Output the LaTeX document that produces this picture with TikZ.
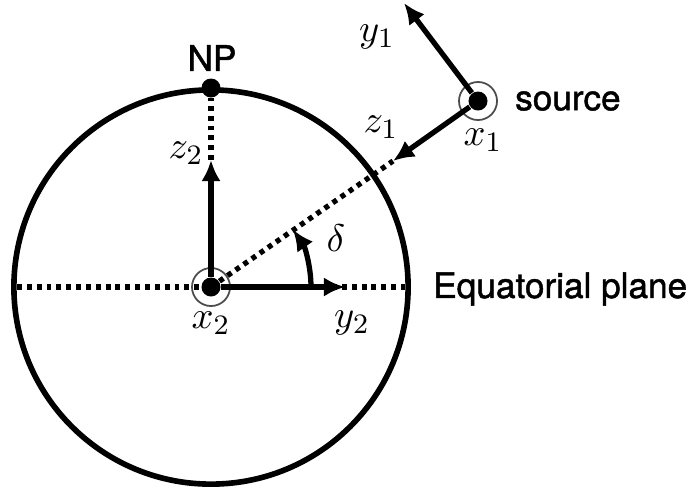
\documentclass[tikz,border=0pt]{standalone}
\usepackage{fontspec}
\setsansfont{TeX Gyre Heros}
\newfontfamily\medsans[FakeBold=1.3]{TeX Gyre Heros}
\usetikzlibrary{arrows.meta,positioning,calc}

\begin{document}
\begin{tikzpicture}[x=0.01cm, y=-0.01cm,
    axis/.style={draw, -{Latex[length=6pt,width=5.5pt]}, line width=1.5pt},
    dotline/.style={draw, line width=1.5pt, dash pattern=on 1.4pt off 1.4pt},
    pt/.style={circle, fill=black, inner sep=0pt, minimum size=0.19cm},
    ring/.style={circle, draw=black!70, line width=0.5pt, inner sep=0pt, minimum size=0.38cm},
    lab/.style={font=\medsans, inner sep=1pt},
    mlab/.style={inner sep=1pt, font=\fontsize{11}{13}\selectfont}
]
    \useasboundingbox (0,0) rectangle (688,493);

    \node[pt] (ctr) at (211,287) {};
    \node[ring] (ctrring) at (ctr) {};
    \draw[line width=1.6pt] (ctr) circle [radius=1.97cm];

    \node[pt] (np) at (211,88) {};
    \node[lab] (nplab) at (212,58) {NP};

    \node[pt] (src) at (478,101) {};
    \node[ring] (srcring) at (src) {};
    \node[lab, anchor=west] (srclab) at (511,101) {source};

    \coordinate (eqL) at (17,287);
    \coordinate (eqR) at (405,287);
    \coordinate (z1tip) at (393,161);
    \coordinate (y1tip) at (404,3);
    \coordinate (z2tip) at (211,160);
    \coordinate (y2tip) at (345,287);

    % dotted guide lines
    \path[dotline] (eqL) -- (eqR);
    \path[dotline] (z2tip) -- (np);
    \path[dotline] (ctr) -- (z1tip);

    % axes
    \path[axis] (ctr) -- (z2tip);
    \path[axis] (ctr) -- (y2tip);
    \path[axis] (src) -- (z1tip);
    \path[axis] (src) -- (y1tip);
    \draw[axis] ($(ctr)+(100,0)$) arc[start angle=0, end angle=35, radius=1cm];

    \node[lab, anchor=west] (eqlab) at (429,289) {Equatorial plane};
    \node[mlab] (x1lab) at (483,140) {$x_1$};
    \node[mlab] (y1lab) at (377,37) {$y_1$};
    \node[mlab] (z1lab) at (381,127) {$z_1$};
    \node[mlab] (z2lab) at (186,153) {$z_2$};
    \node[mlab] (x2lab) at (211,323) {$x_2$};
    \node[mlab] (y2lab) at (352,323) {$y_2$};
    \node[mlab] (dlab) at (336,238) {$\delta$};
\end{tikzpicture}
\end{document}
